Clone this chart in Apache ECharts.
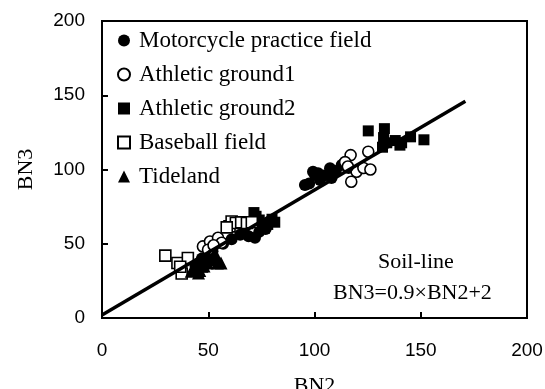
<!DOCTYPE html>
<html>
<head>
<meta charset="utf-8">
<script src="https://cdn.jsdelivr.net/npm/echarts@6/dist/echarts.min.js"></script>
<style>
  html, body { margin: 0; padding: 0; background: #fff; }
  #chart { width: 545px; height: 389px; }
</style>
</head>
<body>
<div id="chart"></div>
<script>
// Datos (BN2, BN3)
const motoX = [95.5, 97.5, 99.3, 100.2, 101.7, 102.6, 104.5, 107.3, 108, 110, 112.8, 116, 61, 65, 67, 69, 72, 74, 77, 57, 52, 47, 44];
const motoY = [89.6, 90.5, 98.5, 96.5, 97.5, 93, 96, 100.9, 94.2, 99, 103, 101, 53, 56, 57, 55, 54, 58, 60, 50, 45, 40, 35];

const ath1X = [117, 114.4, 125.3, 119.8, 123, 126.3, 117.3, 115.7, 47.5, 50.8, 54.6, 56.3, 49.9, 52.5];
const ath1Y = [109.7, 105, 112, 98.5, 101, 100, 91.8, 102, 48.2, 51.5, 54, 50.7, 46, 49];

const ath2X = [125.3, 132.9, 132.5, 132, 134, 138, 140.2, 141, 145.2, 151.5, 71.5, 72.5, 74, 76.4, 78, 80, 81.3, 75];
const ath2Y = [126, 127.5, 121.5, 115, 118, 119.5, 116.4, 118, 122, 120, 71, 68.5, 66, 60.6, 63, 66.5, 64.5, 63];

const baseX = [29.8, 35.5, 37.5, 40.4, 36.8, 60, 61, 63, 65.5, 68.2, 70.5, 58.7];
const baseY = [42, 37, 30, 40.4, 34.5, 61.7, 65, 64, 64.4, 64, 64.5, 61];

const tideX = [45.4, 43.7, 47, 49.5, 52, 54.3, 56, 42, 50.2, 53.5, 46, 48];
const tideY = [30.3, 33.7, 34.8, 37, 39.3, 37, 37, 31.4, 41.5, 42.6, 32, 35];

// Recta de suelo tal como aparece dibujada
const lineX = [0, 171];
const lineY = [2, 146];

const seriesNames = ['Motorcycle practice field', 'Athletic ground1', 'Athletic ground2', 'Baseball field', 'Tideland'];
const xTicks = [0, 50, 100, 150, 200];
const yTicks = [0, 50, 100, 150, 200];

const zip = (xs, ys) => xs.map((x, i) => [x, ys[i]]);

const serif = 'Liberation Serif, Times New Roman, serif';
const sans = 'Liberation Sans, Arial, sans-serif';

const filled = { color: '#000', opacity: 1 };
const hollow = { color: '#fff', borderColor: '#000', borderWidth: 1.6, opacity: 1 };

const chart = echarts.init(document.getElementById('chart'));

chart.setOption({
    backgroundColor: '#ffffff',
    animation: false,
    grid: {
        left: 102,
        right: 18,
        top: 21,
        bottom: 71,
        outerBoundsMode: 'none',
        show: true,
        borderColor: '#000',
        borderWidth: 2
    },
    legend: {
        data: seriesNames,
        orient: 'vertical',
        left: 112,
        top: 24,
        itemWidth: 12,
        itemHeight: 12,
        itemGap: 11,
        textStyle: {
            fontFamily: serif,
            fontSize: 23,
            color: '#000',
            lineHeight: 22,
            padding: [0, 0, 0, 4]
        }
    },
    xAxis: {
        type: 'value',
        min: xTicks[0],
        max: xTicks[xTicks.length - 1],
        interval: 50,
        name: 'BN2',
        nameLocation: 'middle',
        nameGap: 57,
        nameTextStyle: { fontFamily: serif, fontSize: 22, color: '#000' },
        axisLine: { lineStyle: { color: '#000', width: 2 } },
        axisTick: { inside: true, length: 6, lineStyle: { color: '#000', width: 2 } },
        axisLabel: { fontFamily: sans, fontSize: 19, color: '#000', margin: 23 },
        splitLine: { show: false }
    },
    yAxis: {
        type: 'value',
        min: yTicks[0],
        max: yTicks[yTicks.length - 1],
        interval: 50,
        name: 'BN3',
        nameLocation: 'middle',
        nameGap: 65,
        nameTextStyle: { fontFamily: serif, fontSize: 22, color: '#000' },
        axisLine: { lineStyle: { color: '#000', width: 2 } },
        axisTick: { inside: true, length: 6, lineStyle: { color: '#000', width: 2 } },
        axisLabel: { fontFamily: sans, fontSize: 19, color: '#000', margin: 17 },
        splitLine: { show: false }
    },
    graphic: [
        {
            type: 'text',
            left: 378,
            top: 251,
            style: { text: 'Soil-line', font: '22px ' + serif, fill: '#000' }
        },
        {
            type: 'text',
            left: 333,
            top: 282,
            style: { text: 'BN3=0.9×BN2+2', font: '22px ' + serif, fill: '#000' }
        }
    ],
    series: [
        {
            name: seriesNames[0],
            type: 'scatter',
            symbol: 'circle',
            symbolSize: 12,
            itemStyle: filled,
            data: zip(motoX, motoY)
        },
        {
            name: seriesNames[1],
            type: 'scatter',
            symbol: 'circle',
            symbolSize: 11,
            itemStyle: hollow,
            data: zip(ath1X, ath1Y)
        },
        {
            name: seriesNames[2],
            type: 'scatter',
            symbol: 'rect',
            symbolSize: 11,
            itemStyle: filled,
            data: zip(ath2X, ath2Y)
        },
        {
            name: seriesNames[3],
            type: 'scatter',
            symbol: 'rect',
            symbolSize: 11,
            itemStyle: hollow,
            data: zip(baseX, baseY)
        },
        {
            name: seriesNames[4],
            type: 'scatter',
            symbol: 'triangle',
            symbolSize: 13,
            itemStyle: filled,
            data: zip(tideX, tideY)
        },
        {
            name: 'Soil-line',
            type: 'line',
            showSymbol: false,
            symbol: 'none',
            z: 5,
            lineStyle: { color: '#000', width: 3.5 },
            data: zip(lineX, lineY)
        }
    ]
});
</script>
</body>
</html>
